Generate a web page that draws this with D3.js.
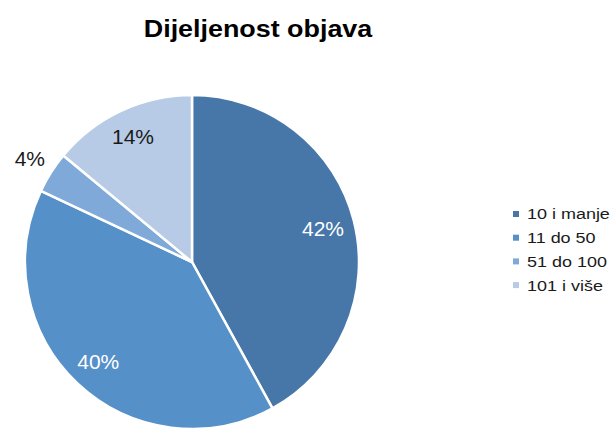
<!DOCTYPE html>
<html>
<head>
<meta charset="utf-8">
<script src="https://cdn.jsdelivr.net/npm/d3@7"></script>
<style>
  body { margin: 0; background: #fff; }
  text { font-family: "Liberation Sans", Arial, Helvetica, sans-serif; }
</style>
</head>
<body>
<div id="chart"></div>
<script>
const categories = ["10 i manje", "11 do 50", "51 do 100", "101 i više"];
const values = [42, 40, 4, 14];
const labels = ["42%", "40%", "4%", "14%"];
const colors = ["#4677a8", "#5690c9", "#7ea9d9", "#b7cbe6"];

const width = 612, height = 429;
const cx = 192, cy = 262, radius = 167;

const svg = d3.select("#chart").append("svg")
    .attr("width", width)
    .attr("height", height);

// title is a touch wider than plain Arial, so stretch it sideways
svg.append("text")
    .attr("transform", "translate(258,37) scale(1.12,1)")
    .attr("text-anchor", "middle")
    .style("font-size", "24px")
    .style("font-weight", "bold")
    .text("Dijeljenost objava");

const pie = d3.pie().sort(null).value(d => d);
const arcs = pie(values);
const arc = d3.arc().innerRadius(0).outerRadius(radius);

const g = svg.append("g")
    .attr("transform", "translate(" + cx + "," + cy + ")");

g.selectAll("path")
    .data(arcs)
    .join("path")
    .attr("d", arc)
    .attr("fill", (d, i) => colors[i])
    .attr("stroke", "#fff")
    .attr("stroke-width", 2.5);

// label distance from centre, as a share of the radius (4% sits outside)
const labelRadius = [0.81, 0.82, 1.15, 0.83];

g.selectAll("text.lbl")
    .data(arcs)
    .join("text")
    .attr("class", "lbl")
    .attr("transform", (d, i) => {
        const r = radius * labelRadius[i];
        const a = (d.startAngle + d.endAngle) / 2;
        return "translate(" + (Math.sin(a) * r) + "," + (-Math.cos(a) * r) + ")";
    })
    .attr("text-anchor", "middle")
    .attr("dy", "0.35em")
    .style("font-size", "21px")
    .attr("fill", (d, i) => i < 2 ? "#fff" : "#1a1a1a")
    .text((d, i) => labels[i]);

// legend
const legend = svg.append("g").attr("transform", "translate(513,214)");
const row = legend.selectAll("g")
    .data(categories)
    .join("g")
    .attr("transform", (d, i) => "translate(0," + (i * 23.7) + ")");

row.append("rect")
    .attr("x", 0)
    .attr("y", -3)
    .attr("width", 6)
    .attr("height", 6)
    .attr("fill", (d, i) => colors[i]);

row.append("text")
    .attr("transform", "translate(14,0) scale(1.16,1)")
    .attr("dy", "0.35em")
    .style("font-size", "15.5px")
    .attr("fill", "#1a1a1a")
    .text(d => d);
</script>
</body>
</html>
